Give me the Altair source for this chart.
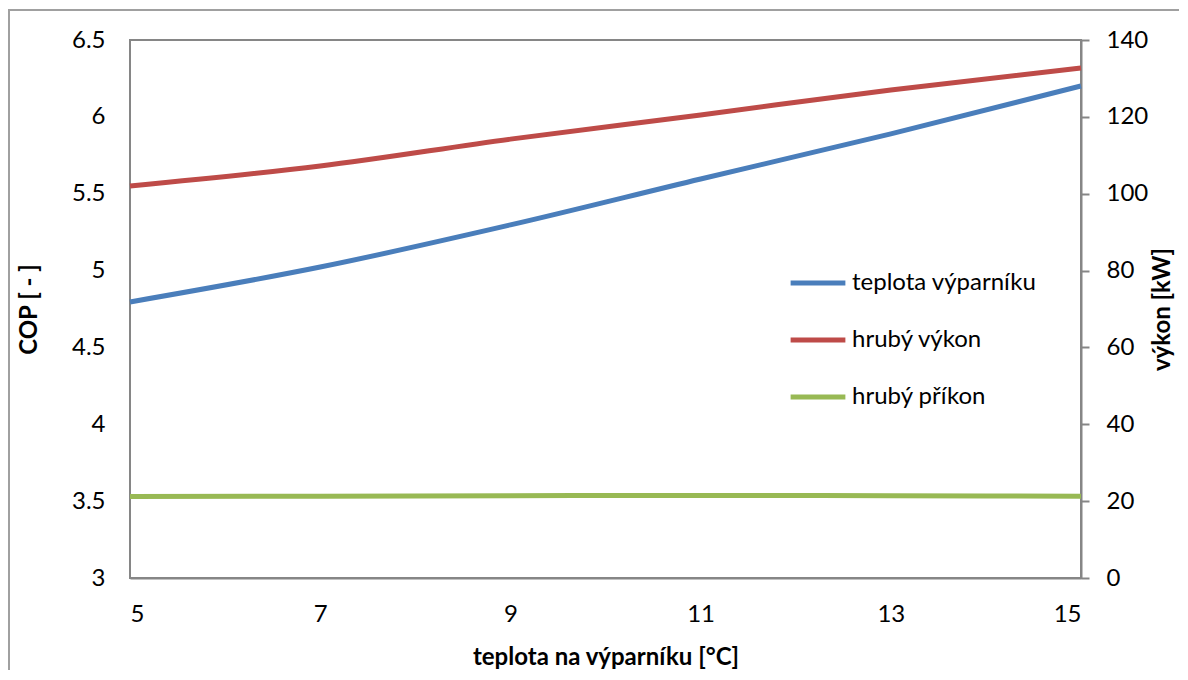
import altair as alt
import pandas as pd

x_vals = [5, 7, 9, 11, 13, 15]
cop_vals = [4.796, 5.023, 5.297, 5.596, 5.889, 6.201]
vykon_vals = [102.0, 107.2, 114.2, 120.5, 127.0, 132.7]
prikon_vals = [21.2, 21.3, 21.4, 21.5, 21.4, 21.3]

series_names = ["teplota výparníku", "hrubý výkon", "hrubý příkon"]
series_colors = ["#4A7EBB", "#BE4B48", "#98B954"]

FONT = "Lato"
FS = 24

df_cop = pd.DataFrame({"x": x_vals, "v": cop_vals, "s": series_names[0]})
df_kw = pd.concat([
    pd.DataFrame({"x": x_vals, "v": vykon_vals, "s": series_names[1]}),
    pd.DataFrame({"x": x_vals, "v": prikon_vals, "s": series_names[2]}),
])

xenc = alt.X("x:Q", scale=alt.Scale(domain=[5, 15], nice=False),
             axis=alt.Axis(values=[5, 7, 9, 11, 13, 15], title="teplota na výparníku [°C]",
                           ticks=False, grid=False, labelPadding=24, titlePadding=19,
                           domainColor="#868686", domainWidth=2))

color = alt.Color("s:N", scale=alt.Scale(domain=series_names, range=series_colors),
                  legend=alt.Legend(title=None, orient="none", legendX=658, legendY=213,
                                    symbolType="stroke", symbolSize=3000, symbolStrokeWidth=5,
                                    labelFontSize=FS, labelFont=FONT, labelColor="#000",
                                    rowPadding=15, labelOffset=4, labelLimit=400))

left = alt.Chart(df_cop).mark_line(strokeWidth=5, interpolate="monotone").encode(
    x=xenc,
    y=alt.Y("v:Q", scale=alt.Scale(domain=[3, 6.5], nice=False),
            axis=alt.Axis(values=[3, 3.5, 4, 4.5, 5, 5.5, 6, 6.5], title="COP [ - ]",
                          format="~g",
                          ticks=False, grid=False, labelPadding=25, titlePadding=30,
                          domain=False, orient="left")),
    color=color,
)

right = alt.Chart(df_kw).mark_line(strokeWidth=5, interpolate="monotone").encode(
    x=xenc,
    y=alt.Y("v:Q", scale=alt.Scale(domain=[0, 140], nice=False),
            axis=alt.Axis(values=[0, 20, 40, 60, 80, 100, 120, 140], title="výkon [kW]",
                          orient="right", ticks=True, tickSize=8, tickColor="#868686",
                          tickWidth=2, grid=False, labelPadding=17, titlePadding=27,
                          titleAngle=270, domainColor="#868686", domainWidth=2)),
    color=color,
)

frame_df = pd.DataFrame({"a": [0]})
frame_top = alt.Chart(frame_df).mark_rule(stroke="#A0A0A0", strokeWidth=2).encode(
    x=alt.value(-122), x2=alt.value(1060), y=alt.value(-30))
frame_left = alt.Chart(frame_df).mark_rule(stroke="#A0A0A0", strokeWidth=2).encode(
    x=alt.value(-121), y=alt.value(-31), y2=alt.value(640))

chart = alt.layer(frame_top, frame_left, left, right).resolve_scale(y="independent").properties(
    width=951, height=538,
    autosize="none",
    padding={"left": 122, "top": 32, "right": 98, "bottom": 92},
).configure_view(stroke="#868686", strokeWidth=2).configure_axis(
    labelFont=FONT, labelFontSize=FS, labelColor="#000",
    titleFont=FONT, titleFontSize=FS, titleFontWeight="bold", titleColor="#000",
)

chart.save("out.html", embed_options={"renderer": "svg", "actions": False})
